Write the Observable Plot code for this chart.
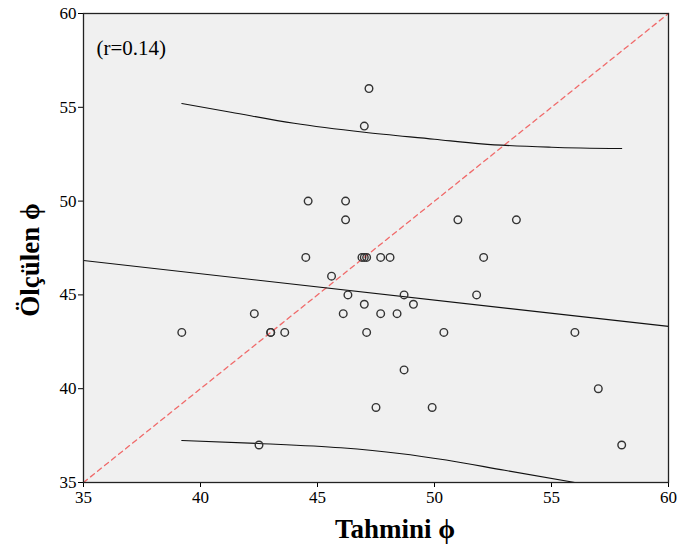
<!DOCTYPE html>
<html><head><meta charset="utf-8">
<script src="https://cdn.jsdelivr.net/npm/d3@7"></script>
<script src="https://cdn.jsdelivr.net/npm/@observablehq/plot@0.6"></script>
<style>body{margin:0;background:#fff;}</style>
</head><body><div id="chart"></div>
<script>
// Observed points (Tahmini ϕ, Ölçülen ϕ)
const tahmini = [39.2, 42.3, 42.5, 43.0, 43.0, 43.6, 44.5, 44.6, 45.6, 46.1, 46.2, 46.2, 46.3, 46.9, 47.0, 47.1, 47.0, 47.2, 47.0, 47.1, 47.5, 47.7, 47.7, 48.1, 48.4, 48.7, 48.7, 49.1, 49.9, 50.4, 51.0, 51.8, 52.1, 53.5, 56.0, 57.0, 58.0];
const olculen = [43, 44, 37, 43, 43, 43, 47, 50, 46, 44, 50, 49, 45, 47, 47, 47, 54, 56, 44.5, 43, 39, 47, 44, 47, 44, 45, 41, 44.5, 39, 43, 49, 45, 47, 49, 43, 40, 37];

// Fit line
const fitX = [35, 60];
const fitY = [46.83, 43.32];

// Upper and lower prediction curves
const upperX = [39.2, 41.3, 44.0, 47.0, 50.0, 52.0, 55.0, 58.0];
const upperY = [55.2, 54.74, 54.15, 53.67, 53.3, 53.05, 52.87, 52.8];
const lowerX = [39.2, 42.5, 46.0, 48.5, 50.5, 53.0, 56.0];
const lowerY = [37.24, 37.08, 36.85, 36.55, 36.2, 35.65, 35.0];

// Identity line
const identX = [35, 60];
const identY = [35, 60];

const ticks = [35, 40, 45, 50, 55, 60];
const rLabel = "(r=0.14)";
const xTitle = "Tahmini ϕ";
const yTitle = "Ölçülen ϕ";

const pts = tahmini.map((x, i) => ({x, y: olculen[i]}));
const toLine = (xs, ys) => xs.map((x, i) => ({x, y: ys[i]}));

const serif = "'Liberation Serif','Times New Roman',serif";

const chart = Plot.plot({
  width: 692,
  height: 551,
  marginLeft: 83,
  marginRight: 24,
  marginTop: 13,
  marginBottom: 69,
  style: {fontFamily: serif, fontSize: "17px", color: "#000", background: "#fff"},
  x: {domain: [35, 60], ticks: ticks},
  y: {domain: [35, 60], ticks: ticks},
  marks: [
    Plot.frame({fill: "#f0f0f0"}),
    Plot.line(toLine(identX, identY), {x: "x", y: "y", stroke: "#f06a6a", strokeWidth: 1.3, strokeDasharray: "5,4"}),
    Plot.line(toLine(fitX, fitY), {x: "x", y: "y", stroke: "#111", strokeWidth: 1.1}),
    Plot.line(toLine(upperX, upperY), {x: "x", y: "y", stroke: "#111", strokeWidth: 1.1, curve: "monotone-x"}),
    Plot.line(toLine(lowerX, lowerY), {x: "x", y: "y", stroke: "#111", strokeWidth: 1.1, curve: "monotone-x", clip: true}),
    Plot.dot(pts, {x: "x", y: "y", r: 3.8, stroke: "#333", strokeWidth: 1.4, fill: "none"}),
    Plot.text([rLabel], {frameAnchor: "top-left", dx: 13, dy: 35, text: d => d, fontSize: 21, fontFamily: serif, textAnchor: "start", lineAnchor: "middle", fill: "#000"}),
    Plot.axisX({ticks: ticks, tickSize: 5, tickPadding: 3, label: null, fontSize: 17, fontFamily: serif, fill: "#000", tickFormat: d => String(d)}),
    Plot.axisY({ticks: ticks, tickSize: 5, tickPadding: 2, label: null, fontSize: 17, fontFamily: serif, fill: "#000", tickFormat: d => String(d)}),
    Plot.text([xTitle], {frameAnchor: "bottom", dx: 19, dy: 55, text: d => d, fontSize: 27, fontWeight: "bold", fontFamily: serif, fill: "#000", textAnchor: "middle"}),
    Plot.text([yTitle], {frameAnchor: "left", dx: -53, dy: 12, rotate: -90, text: d => d, fontSize: 27, fontWeight: "bold", fontFamily: serif, fill: "#000", textAnchor: "middle"}),
    Plot.frame({stroke: "#222", strokeWidth: 1.3})
  ]
});
document.getElementById("chart").appendChild(chart);
</script>
</body></html>
